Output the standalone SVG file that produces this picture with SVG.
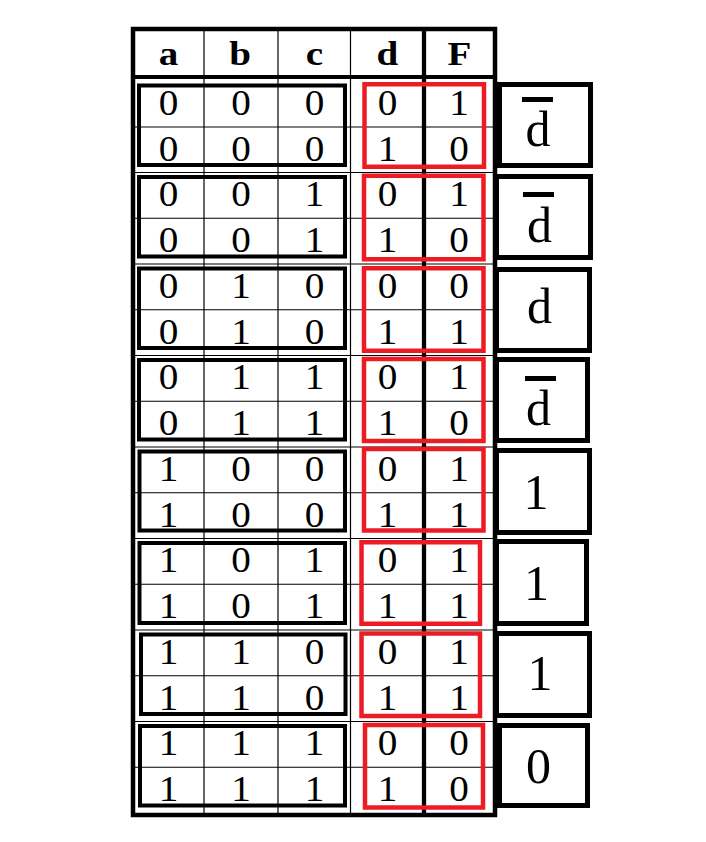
<svg xmlns="http://www.w3.org/2000/svg" width="706" height="842" viewBox="0 0 706 842">
<style>
.thin{stroke:#000;stroke-width:1.2;fill:none}
.thick{stroke:#000;fill:none}
.bk{fill:none;stroke:#000;stroke-width:4}
.rd{fill:none;stroke:#ED1C24;stroke-width:4.5}
.rb{fill:none;stroke:#000;stroke-width:5}
.h{font-family:"Liberation Serif","Times New Roman",serif;font-weight:bold;font-size:34px;text-anchor:middle;fill:#000;transform-box:fill-box;transform-origin:center;transform:scaleX(1.15)}
.v{font-family:"Liberation Serif","Times New Roman",serif;font-size:35px;text-anchor:middle;fill:#000;transform-box:fill-box;transform-origin:center;transform:scaleX(1.12)}
.big{font-family:"Liberation Serif","Times New Roman",serif;font-size:50px;text-anchor:middle;fill:#000}
.bar{fill:#000}
</style>
<rect width="706" height="842" fill="#fff"/>
<g id="grid">
  <g class="thin">
    <line x1="204" y1="29" x2="204" y2="815"/>
    <line x1="278" y1="29" x2="278" y2="815"/>
    <line x1="350.5" y1="29" x2="350.5" y2="815"/>
    <line x1="133" y1="127" x2="495" y2="127"/>
    <line x1="133" y1="172.5" x2="495" y2="172.5"/>
    <line x1="133" y1="218.25" x2="495" y2="218.25"/>
    <line x1="133" y1="264" x2="495" y2="264"/>
    <line x1="133" y1="309.75" x2="495" y2="309.75"/>
    <line x1="133" y1="355.5" x2="495" y2="355.5"/>
    <line x1="133" y1="401.25" x2="495" y2="401.25"/>
    <line x1="133" y1="447" x2="495" y2="447"/>
    <line x1="133" y1="492.75" x2="495" y2="492.75"/>
    <line x1="133" y1="538.5" x2="495" y2="538.5"/>
    <line x1="133" y1="584.25" x2="495" y2="584.25"/>
    <line x1="133" y1="630" x2="495" y2="630"/>
    <line x1="133" y1="675.75" x2="495" y2="675.75"/>
    <line x1="133" y1="721.5" x2="495" y2="721.5"/>
    <line x1="133" y1="767.25" x2="495" y2="767.25"/>
  </g>
  <line class="thick" x1="133" y1="77" x2="495" y2="77" stroke-width="4"/>
  <line class="thick" x1="424" y1="29" x2="424" y2="815" stroke-width="4.3"/>
  <rect class="thick" x="133" y="29" width="362" height="786" stroke-width="4.5"/>
</g>
<g id="header">
  <text class="h" x="168.5" y="65.5">a</text>
  <text class="h" x="240" y="65.5">b</text>
  <text class="h" x="314.5" y="65.5">c</text>
  <text class="h" x="387.5" y="65.5">d</text>
  <text class="h" x="459.5" y="65.5">F</text>
</g>
<g id="group1">
  <rect class="bk" x="139" y="85.5" width="206" height="79.5"/>
  <rect class="rd" x="364.5" y="84.25" width="119.5" height="82.5"/>
  <text class="v" x="168.5" y="115">0</text><text class="v" x="241" y="115">0</text><text class="v" x="314.5" y="115">0</text><text class="v" x="387.5" y="115">0</text><text class="v" x="459" y="115">1</text>
  <text class="v" x="168.5" y="160.75">0</text><text class="v" x="241" y="160.75">0</text><text class="v" x="314.5" y="160.75">0</text><text class="v" x="387.5" y="160.75">1</text><text class="v" x="459" y="160.75">0</text>
</g>
<g id="group2">
  <rect class="bk" x="139" y="177" width="206" height="79.5"/>
  <rect class="rd" x="364" y="175.75" width="119.5" height="83.5"/>
  <text class="v" x="168.5" y="206.5">0</text><text class="v" x="241" y="206.5">0</text><text class="v" x="314.5" y="206.5">1</text><text class="v" x="387.5" y="206.5">0</text><text class="v" x="459" y="206.5">1</text>
  <text class="v" x="168.5" y="252.25">0</text><text class="v" x="241" y="252.25">0</text><text class="v" x="314.5" y="252.25">1</text><text class="v" x="387.5" y="252.25">1</text><text class="v" x="459" y="252.25">0</text>
</g>
<g id="group3">
  <rect class="bk" x="139" y="268.5" width="206" height="79.5"/>
  <rect class="rd" x="364" y="268.25" width="119.5" height="82.5"/>
  <text class="v" x="168.5" y="298">0</text><text class="v" x="241" y="298">1</text><text class="v" x="314.5" y="298">0</text><text class="v" x="387.5" y="298">0</text><text class="v" x="459" y="298">0</text>
  <text class="v" x="168.5" y="343.75">0</text><text class="v" x="241" y="343.75">1</text><text class="v" x="314.5" y="343.75">0</text><text class="v" x="387.5" y="343.75">1</text><text class="v" x="459" y="343.75">1</text>
</g>
<g id="group4">
  <rect class="bk" x="139" y="360" width="206" height="79.5"/>
  <rect class="rd" x="364" y="359" width="119.5" height="82"/>
  <text class="v" x="168.5" y="389.5">0</text><text class="v" x="241" y="389.5">1</text><text class="v" x="314.5" y="389.5">1</text><text class="v" x="387.5" y="389.5">0</text><text class="v" x="459" y="389.5">1</text>
  <text class="v" x="168.5" y="435.25">0</text><text class="v" x="241" y="435.25">1</text><text class="v" x="314.5" y="435.25">1</text><text class="v" x="387.5" y="435.25">1</text><text class="v" x="459" y="435.25">0</text>
</g>
<g id="group5">
  <rect class="bk" x="139.5" y="451.5" width="205.5" height="79"/>
  <rect class="rd" x="364" y="449" width="119.5" height="81.5"/>
  <text class="v" x="168.5" y="481">1</text><text class="v" x="241" y="481">0</text><text class="v" x="314.5" y="481">0</text><text class="v" x="387.5" y="481">0</text><text class="v" x="459" y="481">1</text>
  <text class="v" x="168.5" y="526.75">1</text><text class="v" x="241" y="526.75">0</text><text class="v" x="314.5" y="526.75">0</text><text class="v" x="387.5" y="526.75">1</text><text class="v" x="459" y="526.75">1</text>
</g>
<g id="group6">
  <rect class="bk" x="139.5" y="543" width="205.5" height="80"/>
  <rect class="rd" x="361.5" y="542.25" width="118.5" height="81.5"/>
  <text class="v" x="168.5" y="572.5">1</text><text class="v" x="241" y="572.5">0</text><text class="v" x="314.5" y="572.5">1</text><text class="v" x="387.5" y="572.5">0</text><text class="v" x="459" y="572.5">1</text>
  <text class="v" x="168.5" y="618.25">1</text><text class="v" x="241" y="618.25">0</text><text class="v" x="314.5" y="618.25">1</text><text class="v" x="387.5" y="618.25">1</text><text class="v" x="459" y="618.25">1</text>
</g>
<g id="group7">
  <rect class="bk" x="141" y="634.5" width="204.5" height="79.5"/>
  <rect class="rd" x="361.5" y="633.5" width="118.5" height="82.5"/>
  <text class="v" x="168.5" y="664">1</text><text class="v" x="241" y="664">1</text><text class="v" x="314.5" y="664">0</text><text class="v" x="387.5" y="664">0</text><text class="v" x="459" y="664">1</text>
  <text class="v" x="168.5" y="709.75">1</text><text class="v" x="241" y="709.75">1</text><text class="v" x="314.5" y="709.75">0</text><text class="v" x="387.5" y="709.75">1</text><text class="v" x="459" y="709.75">1</text>
</g>
<g id="group8">
  <rect class="bk" x="140" y="726" width="205" height="79.5"/>
  <rect class="rd" x="365" y="725" width="118" height="82.5"/>
  <text class="v" x="168.5" y="755.5">1</text><text class="v" x="241" y="755.5">1</text><text class="v" x="314.5" y="755.5">1</text><text class="v" x="387.5" y="755.5">0</text><text class="v" x="459" y="755.5">0</text>
  <text class="v" x="168.5" y="801.25">1</text><text class="v" x="241" y="801.25">1</text><text class="v" x="314.5" y="801.25">1</text><text class="v" x="387.5" y="801.25">1</text><text class="v" x="459" y="801.25">0</text>
</g>
<g id="result1">
  <rect class="rb" x="499.5" y="84.5" width="91" height="81"/>
  <rect class="bar" x="522" y="97" width="31" height="5"/>
  <text class="big" x="538" y="146">d</text>
</g>
<g id="result2">
  <rect class="rb" x="496.5" y="176.5" width="94" height="81"/>
  <rect class="bar" x="523" y="192" width="31" height="5"/>
  <text class="big" x="539.5" y="242">d</text>
</g>
<g id="result3">
  <rect class="rb" x="496.5" y="269.5" width="93" height="81"/>
  <text class="big" x="539.5" y="323">d</text>
</g>
<g id="result4">
  <rect class="rb" x="496.5" y="359.5" width="91" height="81"/>
  <rect class="bar" x="525" y="376" width="31" height="5"/>
  <text class="big" x="538.5" y="425">d</text>
</g>
<g id="result5">
  <rect class="rb" x="496.5" y="450.5" width="93" height="82"/>
  <text class="big" x="536" y="509">1</text>
</g>
<g id="result6">
  <rect class="rb" x="496.5" y="541.5" width="90" height="82"/>
  <text class="big" x="536.5" y="600">1</text>
</g>
<g id="result7">
  <rect class="rb" x="496.5" y="633.5" width="93" height="82"/>
  <text class="big" x="540" y="690">1</text>
</g>
<g id="result8">
  <rect class="rb" x="499.5" y="725.5" width="88" height="80"/>
  <text class="big" x="538.5" y="783">0</text>
</g>
</svg>
